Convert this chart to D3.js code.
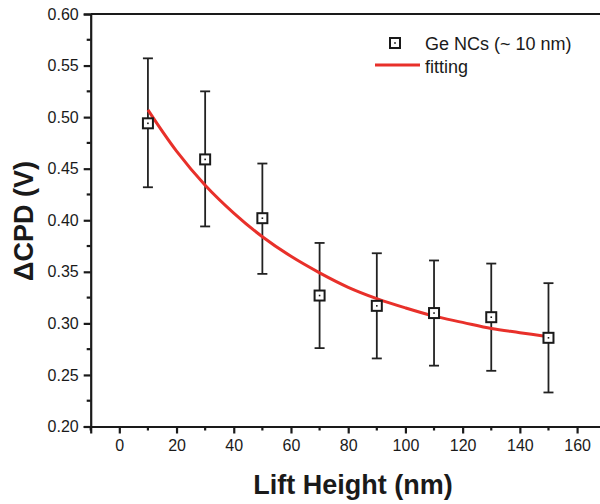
<!DOCTYPE html>
<html>
<head>
<meta charset="utf-8">
<script src="https://cdn.jsdelivr.net/npm/d3@7/dist/d3.min.js"></script>
<style>
html,body{margin:0;padding:0;background:#fff;}
svg{display:block;font-family:Arial,"Liberation Sans",sans-serif;}
</style>
</head>
<body>
<script>
// ---- data ----
const liftHeight = [10, 30, 50, 70, 90, 110, 130, 150];
const cpd        = [0.494, 0.459, 0.402, 0.327, 0.317, 0.310, 0.306, 0.286];
const errUpper   = [0.557, 0.525, 0.455, 0.378, 0.368, 0.361, 0.358, 0.339];
const errLower   = [0.432, 0.394, 0.348, 0.276, 0.266, 0.259, 0.254, 0.233];
const fitX       = [10, 20, 30, 40, 50, 60, 70, 80, 90, 100, 110, 120, 130, 140, 150];
const fitY       = [0.507, 0.467, 0.434, 0.407, 0.384, 0.365, 0.349, 0.335, 0.324, 0.315, 0.307, 0.301, 0.295, 0.291, 0.287];
const xTicks     = [0, 20, 40, 60, 80, 100, 120, 140, 160];
const yTicks     = [0.20, 0.25, 0.30, 0.35, 0.40, 0.45, 0.50, 0.55, 0.60];
const legendLabels = ["Ge NCs (~ 10 nm)", "fitting"];
const xTitle = "Lift Height (nm)";
const yTitle = "ΔCPD (V)";

const W = 600, H = 504;
const svg = d3.select("body").append("svg").attr("width", W).attr("height", H);

const x = d3.scaleLinear().domain([-10, 170]).range([90.7, 605.7]);
const y = d3.scaleLinear().domain([0.20, 0.60]).range([426.5, 14]);

const black = "#1a1a1a";
const red = "#e8302a";

// top frame line
svg.append("line").attr("x1", x(-10)).attr("x2", W).attr("y1", y(0.60)).attr("y2", y(0.60))
  .attr("stroke", black).attr("stroke-width", 2.2);

// x axis
const xMinor = d3.range(-10, 171, 20);
const gx = svg.append("g").attr("transform", `translate(0,${y(0.20)})`);
gx.call(d3.axisBottom(x).tickValues(xTicks).tickSize(7).tickPadding(6).tickFormat(d3.format("d")));
gx.select(".domain").attr("stroke", black).attr("stroke-width", 2.2);
gx.selectAll(".tick line").attr("stroke", black).attr("stroke-width", 2.2);
gx.selectAll(".tick text").attr("font-size", 16).attr("fill", black).attr("font-family", "Arial, 'Liberation Sans', sans-serif");
gx.selectAll(".minor").data(xMinor).enter().append("line")
  .attr("x1", d => x(d)).attr("x2", d => x(d)).attr("y1", 0).attr("y2", 4)
  .attr("stroke", black).attr("stroke-width", 2.2);

// y axis
const yMinor = d3.range(0.225, 0.6, 0.05);
const gy = svg.append("g").attr("transform", `translate(${x(-10)},0)`);
gy.call(d3.axisLeft(y).tickValues(yTicks).tickSize(7).tickPadding(5).tickFormat(d3.format(".2f")));
gy.select(".domain").attr("stroke", black).attr("stroke-width", 2.2);
gy.selectAll(".tick line").attr("stroke", black).attr("stroke-width", 2.2);
gy.selectAll(".tick text").attr("font-size", 16).attr("fill", black).attr("font-family", "Arial, 'Liberation Sans', sans-serif");
gy.selectAll(".minor").data(yMinor).enter().append("line")
  .attr("x1", 0).attr("x2", -4).attr("y1", d => y(d)).attr("y2", d => y(d))
  .attr("stroke", black).attr("stroke-width", 2.2);

// axis titles
svg.append("text").attr("x", 353).attr("y", 494).attr("text-anchor", "middle")
  .attr("font-size", 27).attr("font-weight", "bold").attr("fill", black).text(xTitle);
svg.append("text").attr("transform", "translate(33,221) rotate(-90)").attr("text-anchor", "middle")
  .attr("font-size", 27).attr("font-weight", "bold").attr("fill", black).text(yTitle);

// error bars
const pts = liftHeight.map((h, i) => ({h, v: cpd[i], hi: errUpper[i], lo: errLower[i]}));
const eb = svg.append("g").attr("stroke", "#222").attr("stroke-width", 1.8);
pts.forEach(p => {
  eb.append("line").attr("x1", x(p.h)).attr("x2", x(p.h)).attr("y1", y(p.hi)).attr("y2", y(p.lo));
  eb.append("line").attr("x1", x(p.h) - 5).attr("x2", x(p.h) + 5).attr("y1", y(p.hi)).attr("y2", y(p.hi));
  eb.append("line").attr("x1", x(p.h) - 5).attr("x2", x(p.h) + 5).attr("y1", y(p.lo)).attr("y2", y(p.lo));
});

// fit curve
const fit = fitX.map((v, i) => [v, fitY[i]]);
svg.append("path").datum(fit)
  .attr("d", d3.line().x(d => x(d[0])).y(d => y(d[1])).curve(d3.curveCatmullRom))
  .attr("fill", "none").attr("stroke", red).attr("stroke-width", 3);

// markers
const mk = svg.append("g");
pts.forEach(p => {
  mk.append("rect").attr("x", x(p.h) - 5).attr("y", y(p.v) - 5).attr("width", 10).attr("height", 10)
    .attr("fill", "#fff").attr("stroke", black).attr("stroke-width", 2);
  mk.append("rect").attr("x", x(p.h) - 0.8).attr("y", y(p.v) - 0.8).attr("width", 1.6).attr("height", 1.6)
    .attr("fill", black);
});

// legend
const lg = svg.append("g");
lg.append("rect").attr("x", 390).attr("y", 38).attr("width", 10).attr("height", 10)
  .attr("fill", "#fff").attr("stroke", black).attr("stroke-width", 2);
lg.append("rect").attr("x", 394.2).attr("y", 42.2).attr("width", 1.6).attr("height", 1.6).attr("fill", black);
lg.append("text").attr("x", 425).attr("y", 49.5).attr("font-size", 18).attr("fill", black).text(legendLabels[0]);
lg.append("line").attr("x1", 375).attr("x2", 420).attr("y1", 65).attr("y2", 65)
  .attr("stroke", red).attr("stroke-width", 3);
lg.append("text").attr("x", 425).attr("y", 73).attr("font-size", 18).attr("fill", black).text(legendLabels[1]);
</script>
</body>
</html>
